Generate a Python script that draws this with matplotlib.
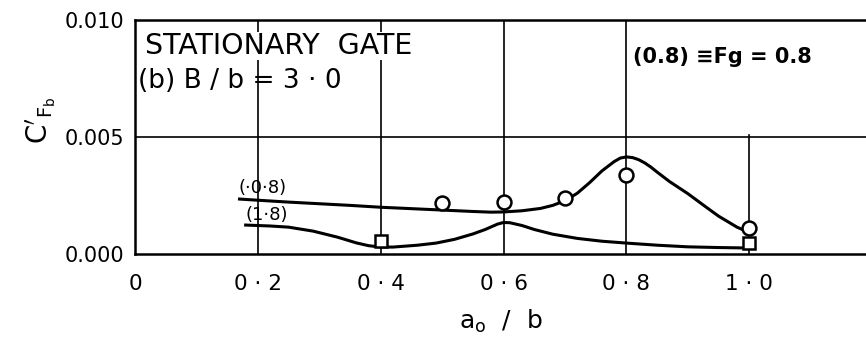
import numpy as np
import matplotlib.pyplot as plt

# Curve for Fg = 0.8
x_curve_08 = [0.17, 0.20, 0.25, 0.30, 0.35, 0.40, 0.45, 0.50, 0.55, 0.58, 0.60, 0.63, 0.66,
              0.68, 0.70, 0.72, 0.74, 0.76, 0.78, 0.79, 0.80, 0.81, 0.82, 0.83, 0.84, 0.85,
              0.87, 0.90, 0.93, 0.95, 0.98, 1.00]
y_curve_08 = [2.35, 2.30, 2.22, 2.15, 2.08, 2.00, 1.94, 1.88, 1.82, 1.79, 1.80, 1.85, 1.95,
              2.08, 2.28, 2.60, 3.05, 3.55, 3.95, 4.10, 4.15, 4.12, 4.03, 3.89, 3.71, 3.50,
              3.10, 2.58, 2.00, 1.62, 1.15, 0.92]

# Curve for Fg = 1.8
x_curve_18 = [0.18, 0.22, 0.25, 0.29, 0.33, 0.36, 0.38, 0.40, 0.42, 0.46, 0.49, 0.52, 0.55,
              0.57, 0.59, 0.60, 0.61, 0.63, 0.65, 0.68, 0.72, 0.76, 0.80, 0.85, 0.90,
              0.95, 1.00]
y_curve_18 = [1.24, 1.20, 1.15, 0.98, 0.72, 0.48, 0.36, 0.30, 0.30, 0.38, 0.47, 0.63, 0.86,
              1.05, 1.28, 1.35, 1.34, 1.22, 1.05, 0.85, 0.67, 0.55, 0.47, 0.38, 0.31,
              0.28, 0.26]

# Measured points
x_circles = [0.5, 0.6, 0.7, 0.8, 1.0]
y_circles = [2.18, 2.22, 2.40, 3.38, 1.10]
x_squares = [0.4, 1.0]
y_squares = [0.55, 0.47]

x_ticks = [0, 0.2, 0.4, 0.6, 0.8, 1.0]
x_labels = ['0', '0 · 2', '0 · 4', '0 · 6', '0 · 8', '1 · 0']
y_ticks = [0.0, 0.005, 0.010]
y_labels = ['0.000', '0.005', '0.010']

plt.rcParams['mathtext.fontset'] = 'dejavusans'

fig = plt.figure(figsize=(8.66, 3.37), dpi=100)
ax = fig.add_axes([0.156, 0.246, 0.844, 0.695])

sc = 1e-3
ax.plot(x_curve_08, np.array(y_curve_08) * sc, color='black', lw=2.2, zorder=3)
ax.plot(x_curve_18, np.array(y_curve_18) * sc, color='black', lw=2.2, zorder=3)
ax.plot(x_circles, np.array(y_circles) * sc, 'o', ms=10, mfc='white', mec='black', mew=1.8, zorder=4)
ax.plot(x_squares, np.array(y_squares) * sc, 's', ms=8.5, mfc='white', mec='black', mew=1.8, zorder=4)

# grid lines
for xv in [0.2, 0.4, 0.6, 0.8]:
    ax.axvline(xv, color='black', lw=1.2, zorder=1)
ax.plot([1.0, 1.0], [0, 0.0051], color='black', lw=1.2, zorder=1)
ax.axhline(0.005, color='black', lw=1.2, zorder=1)

ax.set_xlim(0, 1.19)
ax.set_ylim(0, 0.010)
ax.set_xticks(x_ticks)
ax.set_xticklabels(x_labels)
ax.set_yticks(y_ticks)
ax.set_yticklabels(y_labels)
ax.tick_params(length=0, labelsize=15, pad=8)
ax.tick_params(axis='x', labelsize=15.5, pad=14)

for s in ['left', 'top', 'bottom']:
    ax.spines[s].set_linewidth(1.8)
ax.spines['right'].set_visible(False)

ax.text(0.016, 0.0089, 'STATIONARY  GATE', fontsize=20.5, va='center', ha='left',
        bbox=dict(fc='white', ec='none', pad=0.0))
ax.text(0.004, 0.0074, '(b) B / b = 3 · 0', fontsize=19, va='center', ha='left')
ax.text(0.81, 0.0084, '(0.8) ≡Fg = 0.8', fontsize=15, fontweight='bold', va='center', ha='left')

ax.text(0.168, 0.00283, '(·0·8)', fontsize=13, va='center', ha='left')
ax.text(0.18, 0.00168, '(1·8)', fontsize=13, va='center', ha='left')

ax.set_xlabel(r'$\mathrm{a_o}$  /  b', fontsize=18, labelpad=10)
ax.set_ylabel(r"$\mathrm{C'_{F_b}}$", fontsize=20)
ax.yaxis.set_label_coords(-0.105, 0.57)

fig.savefig('out.png', dpi=100)
